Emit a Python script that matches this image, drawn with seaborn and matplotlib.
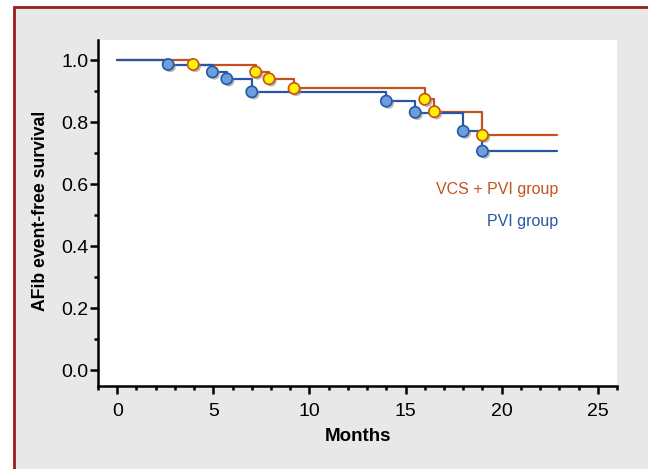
import numpy as np
import pandas as pd
import matplotlib.pyplot as plt
import matplotlib.patches as mpatches
import matplotlib.patheffects as pe
from matplotlib.ticker import MultipleLocator
import seaborn as sns

sns.set_style("ticks")
plt.rcParams['font.family'] = ['Liberation Sans', 'DejaVu Sans']
plt.rcParams['text.color'] = 'black'
plt.rcParams['axes.labelcolor'] = 'black'
plt.rcParams['xtick.color'] = 'black'
plt.rcParams['ytick.color'] = 'black'

# step curves (time of drop, survival after drop)
vcs_t = [0, 4.0, 7.2, 7.9, 9.2, 16.0, 16.5, 19.0, 22.9]
vcs_s = [1.0, 0.983, 0.962, 0.940, 0.909, 0.874, 0.834, 0.758, 0.758]
pvi_t = [0, 2.7, 5.0, 5.7, 7.0, 14.0, 15.5, 18.0, 19.0, 22.9]
pvi_s = [1.0, 0.983, 0.962, 0.940, 0.898, 0.868, 0.830, 0.771, 0.706, 0.706]

# event markers
vcs_mx = [3.95, 7.2, 7.9, 9.2, 16.0, 16.5, 19.0]
vcs_my = [0.986, 0.962, 0.940, 0.909, 0.874, 0.834, 0.758]
pvi_mx = [2.65, 4.95, 5.7, 7.0, 14.0, 15.5, 18.0, 19.0]
pvi_my = [0.986, 0.962, 0.940, 0.898, 0.868, 0.832, 0.771, 0.707]

orange = "#c4521e"
blue = "#2856a5"

fig = plt.figure(figsize=(6.48, 4.69), dpi=100)
fig.patch.set_facecolor("white")
frame = mpatches.Rectangle((14 / 648, -0.05), 1.0, 1 - 7 / 469 + 0.05,
                           transform=fig.transFigure, facecolor="#e8e8e8",
                           edgecolor="#9b1c1c", linewidth=2, zorder=-10)
fig.patches.append(frame)

ax = fig.add_axes([98 / 648, 1 - 386 / 469, (617 - 98) / 648, (386 - 40) / 469])
ax.set_facecolor("white")

df_v = pd.DataFrame({"t": vcs_t, "s": vcs_s})
df_p = pd.DataFrame({"t": pvi_t, "s": pvi_s})
ax.step(df_v["t"], df_v["s"], where="post", color=orange, lw=1.6, zorder=2)
ax.step(df_p["t"], df_p["s"], where="post", color=blue, lw=1.6, zorder=2)

shadow = [pe.SimplePatchShadow(offset=(1.5, -1.5), shadow_rgbFace="#888888", alpha=0.6), pe.Normal()]
sns.scatterplot(x=pvi_mx, y=pvi_my, ax=ax, s=65, color="#6a9fdc", edgecolor=blue,
                linewidth=1.2, zorder=3, path_effects=shadow)
sns.scatterplot(x=vcs_mx, y=vcs_my, ax=ax, s=65, color="#fff000", edgecolor=orange,
                linewidth=1.2, zorder=4, path_effects=shadow)

ax.set_xlim(-1, 26)
ax.set_ylim(-0.05, 1.065)
ax.set_xticks([0, 5, 10, 15, 20, 25])
ax.set_yticks([0.0, 0.2, 0.4, 0.6, 0.8, 1.0])
ax.set_yticklabels(["0.0", "0.2", "0.4", "0.6", "0.8", "1.0"])
ax.xaxis.set_minor_locator(MultipleLocator(1))
ax.yaxis.set_minor_locator(MultipleLocator(0.1))
ax.tick_params(which="major", length=6, width=1.8, labelsize=14)
ax.tick_params(which="minor", length=3, width=1.8)
ax.tick_params(axis="x", which="major", pad=6)
ax.tick_params(axis="y", which="major", pad=1)
for side in ["top", "right"]:
    ax.spines[side].set_visible(False)
for side in ["left", "bottom"]:
    ax.spines[side].set_linewidth(1.8)
    ax.spines[side].set_color("black")

ax.set_xlabel("Months", fontsize=13.5, fontweight="bold")
ax.set_ylabel("AFib event-free survival", fontsize=12.7, fontweight="bold")
ax.xaxis.set_label_coords(0.5, -0.12)
ax.yaxis.set_label_coords(-0.094, 0.506)

ax.text(22.95, 0.582, "VCS + PVI group", color=orange, fontsize=11.5, ha="right", va="center")
ax.text(22.95, 0.479, "PVI group", color=blue, fontsize=11.5, ha="right", va="center")

fig.savefig("out.png", dpi=100)
